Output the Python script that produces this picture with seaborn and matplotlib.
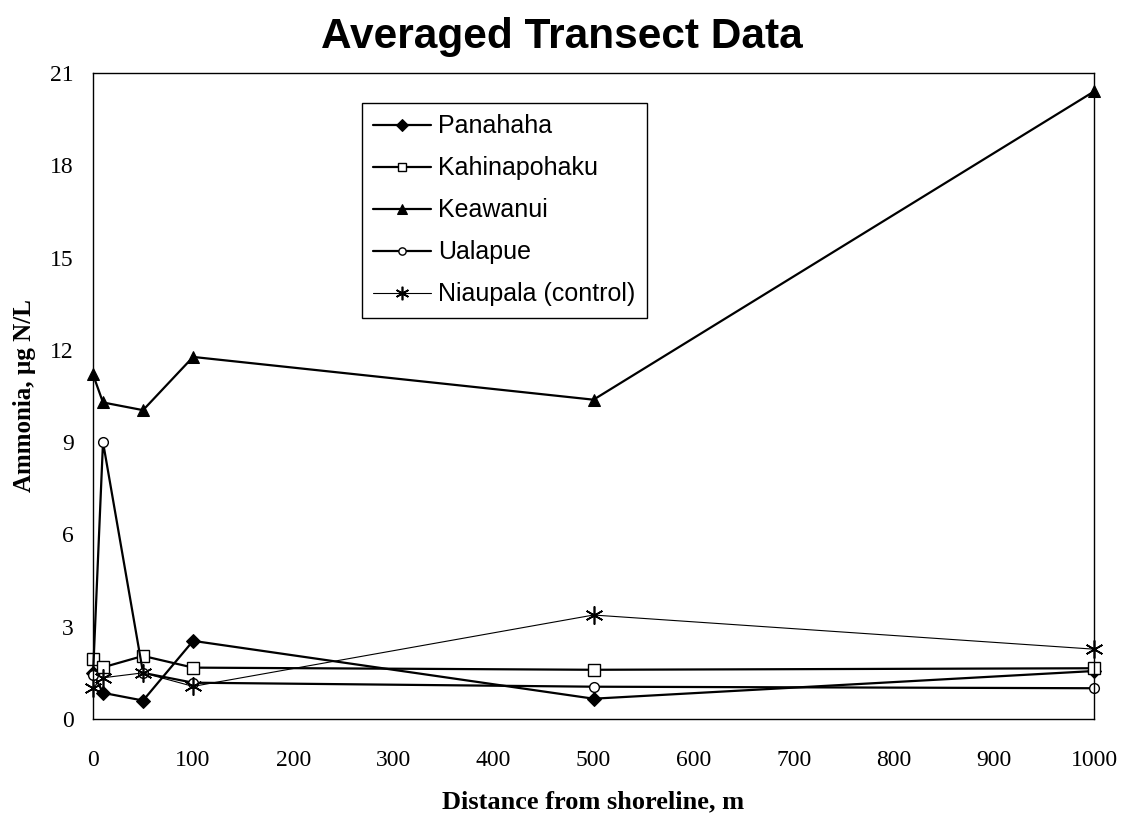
import matplotlib
matplotlib.use("Agg")
import matplotlib.pyplot as plt
import seaborn as sns
import pandas as pd

distance = [0, 10, 50, 100, 500, 1000]
panahaha = [1.5, 0.85, 0.6, 2.54, 0.66, 1.56]
kahinapohaku = [1.94, 1.68, 2.05, 1.67, 1.6, 1.65]
keawanui = [11.2, 10.29, 10.04, 11.77, 10.38, 20.4]
ualapue = [1.43, 9.0, 1.5, 1.18, 1.05, 1.0]
niaupala = [1.02, 1.34, 1.5, 1.06, 3.38, 2.27]

series_names = ["Panahaha", "Kahinapohaku", "Keawanui", "Ualapue", "Niaupala (control)"]
series_values = [panahaha, kahinapohaku, keawanui, ualapue, niaupala]

x_ticks = list(range(0, 1001, 100))
y_ticks = list(range(0, 22, 3))

sns.set_style("white")
plt.rcParams['font.family'] = ['Liberation Serif', 'DejaVu Serif']
for k in ['text.color', 'axes.labelcolor', 'xtick.color', 'ytick.color', 'axes.edgecolor']:
    plt.rcParams[k] = 'black'

fig = plt.figure(figsize=(11.23, 8.25), dpi=100)
ax = fig.add_axes([93/1123, 1-719/825, (1094-93)/1123, (719-73)/825])

styles = [
    dict(marker='D', markersize=7.5, markerfacecolor='black', markeredgecolor='black', linewidth=1.6),
    dict(marker='s', markersize=8, markerfacecolor='white', markeredgecolor='black', markeredgewidth=1.0, linewidth=1.6),
    dict(marker='^', markersize=9, markerfacecolor='black', markeredgecolor='black', linewidth=1.6),
    dict(marker='o', markersize=7, markerfacecolor='white', markeredgecolor='black', markeredgewidth=1.0, linewidth=1.6),
    dict(marker=(6, 2, 0), markersize=13, markeredgecolor='black', markeredgewidth=1.2, linewidth=0.8),
]

for name, vals, st in zip(series_names, series_values, styles):
    df = pd.DataFrame({"distance": distance, "value": vals})
    sns.lineplot(data=df, x="distance", y="value", color='black', ax=ax, label=name,
                 sort=False, estimator=None, clip_on=False, **st)

ax.set_xlim(0, 1000)
ax.set_ylim(0, 21)
ax.set_xticks(x_ticks)
ax.set_yticks(y_ticks)
ax.tick_params(axis='both', direction='out', length=6, width=1, labelsize=17, colors='black')
ax.tick_params(axis='y', pad=8)
ax.tick_params(axis='x', pad=16)
for s in ax.spines.values():
    s.set_color('black')
    s.set_linewidth(1.0)
    s.set_visible(True)

ax.set_xlabel("Distance from shoreline, m", fontsize=19, fontweight='bold', labelpad=14)
ax.set_ylabel("Ammonia, µg N/L", fontsize=18, fontweight='bold', labelpad=10)

fig.suptitle("Averaged Transect Data", x=0.5, y=1-37/825, va='center',
             fontsize=30.5, fontweight='bold', family=['Liberation Sans', 'DejaVu Sans'])

leg = ax.legend(loc='upper left', bbox_to_anchor=(362/1123, 1-103/825), bbox_transform=fig.transFigure,
                frameon=True, fancybox=False, edgecolor='black', framealpha=1,
                prop={'family': ['Liberation Sans', 'DejaVu Sans'], 'size': 18},
                handlelength=2.3, handletextpad=0.3, labelspacing=0.72, borderpad=0.45,
                borderaxespad=0, markerscale=0.75)
leg.get_frame().set_linewidth(1.0)

fig.savefig("out.png", dpi=100, facecolor='white')
